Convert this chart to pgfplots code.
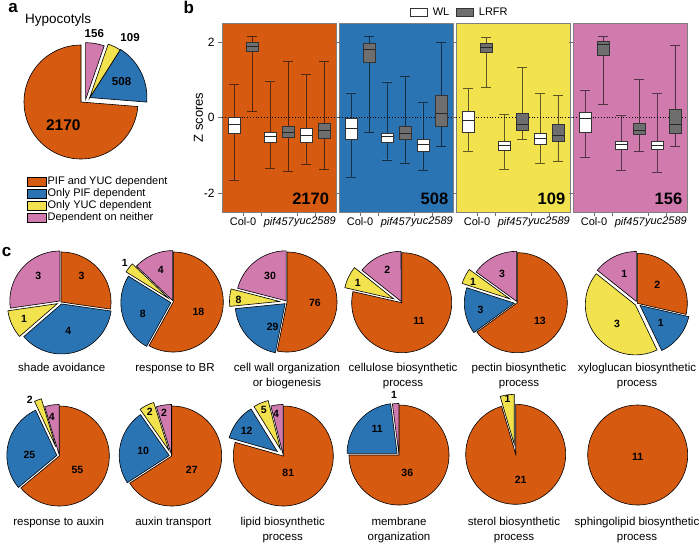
\documentclass[border=0pt]{standalone}
\usepackage{fontspec}
\setmainfont{Liberation Sans}
\setsansfont{Liberation Sans}
\usepackage{pgfplots}
\pgfplotsset{compat=1.18}
\usepgfplotslibrary{statistics}

\definecolor{pO}{HTML}{D65A10}
\definecolor{pB}{HTML}{2A74B4}
\definecolor{pY}{HTML}{F2E24E}
\definecolor{pP}{HTML}{D07AAE}
\definecolor{bxg}{HTML}{6E6E6E}

\def\pnumfont{\fontsize{10.5}{10.5}\selectfont\bfseries}

% ---- pie helpers: counts are plain numbers, angles follow from them ----
\newcommand\pieinit[2]{\pgfmathsetmacro\ptot{#1}\xdef\pang{90}\xdef\pdir{#2}}
\newcommand\pcore[1]{%
  \pgfmathsetmacro\pa{\pang}%
  \pgfmathsetmacro\pfr{#1/\ptot}%
  \pgfmathsetmacro\pb{\pang+(\pdir)*360*\pfr}%
  \pgfmathsetmacro\pmid{(\pa+\pb)/2}%
  \pgfmathsetmacro\pLo{min(\pa,\pb)}%
  \pgfmathsetmacro\pHi{max(\pa,\pb)}%
  \xdef\pang{\pb}}
\newcommand\pdraw[5]{%
  \pgfmathsetmacro\plx{#2+#4*cos(\pmid+#5)}%
  \pgfmathsetmacro\ply{#3+#4*sin(\pmid+#5)}%
  \edef\ptmp{\noexpand\addplot[draw=black,line width=0.6pt,fill=#1,domain=\pLo:\pHi,samples=72] ({#2+cos(x)},{#3+sin(x)}) -- (axis cs:#2,#3) -- cycle;}%
  \ptmp
  \edef\ptmp{\noexpand\node[font=\noexpand\pnumfont,inner sep=0pt] at (axis cs:\plx,\ply) {\unexpanded\expandafter{\ptext}};}%
  \ptmp}
\newcommand\psliceR[6]{\pcore{#1}%
  \pgfmathsetmacro\pdx{#3*cos(\pmid)}\pgfmathsetmacro\pdy{#3*sin(\pmid)}%
  \def\ptext{#6}\pdraw{#2}{\pdx}{\pdy}{#4}{#5}}
\newcommand\psliceXY[7]{\pcore{#1}\def\ptext{#7}\pdraw{#2}{#3}{#4}{#5}{#6}}

% ---- box helper ----
\newcommand\bx[7]{\addplot[forget plot, draw=black!80, line width=0.6pt, fill=#7,
  boxplot prepared={draw position=#1, lower whisker=#2, lower quartile=#3,
  median=#4, upper quartile=#5, upper whisker=#6}] coordinates {};}

\pgfplotsset{
  pieax/.style={hide axis, scale only axis, width=#1, height=#1,
    xmin=-1.3, xmax=1.3, ymin=-1.3, ymax=1.3, anchor=center, clip=false},
  bxax/.style={scale only axis, width=114pt, height=189pt, anchor=south west,
    xmin=0.333, xmax=6.667, ymin=-2.5, ymax=2.5,
    axis background/.style={fill=#1},
    axis line style={draw=black!50, line width=0.6pt},
    xtick={1.5,2.5,4.5,5.5}, xticklabels={Col-0,,,\textit{yuc2589}},
    extra x ticks={3.5}, extra x tick labels={\textit{pif457}},
    extra x tick style={tick style={draw=none}},
    ytick={-2,0,2},
    xtick pos=lower, ytick pos=left, tick align=outside,
    major tick length=4pt,
    tick style={draw=black!55, line width=0.6pt},
    xticklabel style={font=\fontsize{11}{12}\selectfont, inner sep=1pt},
    yticklabel style={font=\fontsize{12}{12}\selectfont},
    /pgf/number format/assume math mode=true,
    boxplot/draw direction=y,
    boxplot/box extend=0.65,
    boxplot/every whisker/.style={draw=black, opacity=0.6},
    boxplot/every median/.style={draw=black!85, line width=0.8pt},
    clip=false},
}
\tikzset{cat/.style={align=center, font=\fontsize{11.5}{15}\selectfont, anchor=north, inner sep=0pt},
  bignum/.style={anchor=base east, inner sep=0pt, font=\fontsize{16.5}{16.5}\selectfont\bfseries},
  plet/.style={anchor=base west, inner sep=0pt, font=\fontsize{17}{17}\selectfont\bfseries}}

\begin{document}
\begin{tikzpicture}
\path[use as bounding box] (0pt,0pt) rectangle (699pt,-542pt);

% ================= panel a =================
\node[plet] at (8.3pt,-12.7pt) {a};
\node[anchor=base west, inner sep=0pt, font=\fontsize{13.5}{13.5}\selectfont] at (25pt,-23.5pt) {Hypocotyls};
\def\pnumfont{\fontsize{11.5}{11.5}\selectfont\bfseries}
\begin{axis}[pieax=148.2pt, at={(81pt,-102pt)},
  legend entries={PIF and YUC dependent, Only PIF dependent, Only YUC dependent, Dependent on neither},
  legend cell align=left,
  legend image code/.code={\draw[#1,draw=black,line width=0.5pt] (0pt,-4.5pt) rectangle (19pt,4.5pt);},
  legend style={at={(0.135,0.005)}, anchor=north west, draw=none, fill=none, inner sep=0pt,
    row sep=0.6pt, font=\fontsize{11}{12}\selectfont, nodes={inner sep=1pt}}]
\pieinit{2943}{1}
\psliceXY{2170}{pO}{0}{0}{0.51}{9.7}{\fontsize{15.5}{15.5}\selectfont 2170}
\psliceXY{508}{pB}{0.157}{0.078}{0.62}{0}{508}
\psliceXY{109}{pY}{0.15}{0.07}{1.28}{-8}{109}
\psliceXY{156}{pP}{0.08}{0.04}{1.17}{2}{156}
\end{axis}

% ================= panel b =================
\node[plet] at (183.3pt,-13.2pt) {b};
\begin{axis}[bxax=pO, at={(222pt,-212pt)},
  ylabel={Z scores}, ylabel style={font=\fontsize{13}{13}\selectfont}, ylabel shift=-6pt,
  legend columns=2,
  legend image code/.code={\draw[#1,draw=black!80,line width=0.6pt] (0pt,-4pt) rectangle (17pt,4pt);},
  legend style={at={(1.645,1.058)}, anchor=west, draw=none, fill=none, inner sep=0pt,
    font=\fontsize{11}{12}\selectfont, nodes={inner sep=1.5pt},
    /tikz/every odd column/.append style={column sep=4pt},
    /tikz/every even column/.append style={column sep=5pt}}]
\addlegendimage{fill=white}\addlegendentry{WL}
\addlegendimage{fill=bxg}\addlegendentry{LRFR}
\addplot[forget plot, black, line width=0.8pt, dotted] coordinates {(0.333,0) (6.667,0)};
\bx{1}{-1.65}{-0.42}{-0.19}{0.00}{0.87}{white}
\bx{2}{0.16}{1.74}{1.88}{1.98}{2.14}{bxg}
\bx{3}{-1.34}{-0.65}{-0.51}{-0.38}{0.97}{white}
\bx{4}{-1.42}{-0.53}{-0.40}{-0.23}{1.49}{bxg}
\bx{5}{-1.25}{-0.66}{-0.48}{-0.29}{1.15}{white}
\bx{6}{-1.37}{-0.54}{-0.35}{-0.14}{1.50}{bxg}
\node[bignum] at (rel axis cs:0.94,0.042) {2170};
\end{axis}

\begin{axis}[bxax=pB, at={(339pt,-212pt)}, yticklabels={}]
\addplot[forget plot, black, line width=0.8pt, dotted] coordinates {(0.333,0) (6.667,0)};
\bx{1}{-1.59}{-0.58}{-0.30}{-0.03}{0.65}{white}
\bx{2}{-0.40}{1.45}{1.81}{1.96}{2.14}{bxg}
\bx{3}{-1.12}{-0.66}{-0.51}{-0.42}{0.94}{white}
\bx{4}{-1.22}{-0.58}{-0.42}{-0.22}{1.09}{bxg}
\bx{5}{-1.39}{-0.89}{-0.72}{-0.58}{0.39}{white}
\bx{6}{-0.76}{-0.23}{0.12}{0.60}{2.00}{bxg}
\node[bignum] at (rel axis cs:0.96,0.042) {508};
\end{axis}

\begin{axis}[bxax=pY, at={(456pt,-212pt)}, yticklabels={}]
\addplot[forget plot, black, line width=0.8pt, dotted] coordinates {(0.333,0) (6.667,0)};
\bx{1}{-0.90}{-0.39}{-0.07}{0.16}{0.76}{white}
\bx{2}{0.81}{1.73}{1.85}{1.97}{2.12}{bxg}
\bx{3}{-1.37}{-0.87}{-0.73}{-0.62}{0.09}{white}
\bx{4}{-0.58}{-0.35}{-0.18}{0.12}{1.32}{bxg}
\bx{5}{-1.22}{-0.72}{-0.56}{-0.41}{0.65}{white}
\bx{6}{-1.15}{-0.64}{-0.47}{-0.19}{0.59}{bxg}
\node[bignum] at (rel axis cs:0.96,0.042) {109};
\end{axis}

\begin{axis}[bxax=pP, at={(573pt,-212pt)}, yticklabels={}]
\addplot[forget plot, black, line width=0.8pt, dotted] coordinates {(0.333,0) (6.667,0)};
\bx{1}{-1.04}{-0.40}{-0.03}{0.15}{0.73}{white}
\bx{2}{0.35}{1.65}{1.94}{2.02}{2.14}{bxg}
\bx{3}{-1.40}{-0.85}{-0.72}{-0.62}{0.07}{white}
\bx{4}{-0.90}{-0.45}{-0.34}{-0.15}{1.00}{bxg}
\bx{5}{-1.46}{-0.85}{-0.73}{-0.62}{0.63}{white}
\bx{6}{-0.76}{-0.41}{-0.17}{0.21}{1.91}{bxg}
\node[bignum] at (rel axis cs:0.96,0.042) {156};
\end{axis}

% ================= panel c =================
\node[plet] at (1.7pt,-256pt) {c};
\def\pnumfont{\fontsize{10.5}{10.5}\selectfont\bfseries}

\begin{axis}[pieax=130pt, at={(61pt,-302pt)}]
\pieinit{11}{-1}
\psliceR{3}{pO}{0}{0.67}{11}{3}
\psliceR{4}{pB}{0.04}{0.55}{-2}{4}
\psliceR{1}{pY}{0.08}{0.73}{0}{1}
\psliceR{3}{pP}{0.03}{0.67}{-9}{3}
\end{axis}

\begin{axis}[pieax=130pt, at={(173.3pt,-302pt)}]
\pieinit{31}{-1}
\psliceR{18}{pO}{0}{0.54}{-7}{18}
\psliceR{8}{pB}{0.05}{0.61}{8}{8}
\psliceR{1}{pY}{0.12}{1.12}{-1}{1}
\psliceR{4}{pP}{0.03}{0.66}{-2}{4}
\end{axis}

\begin{axis}[pieax=130pt, at={(287pt,-302pt)}]
\pieinit{143}{-1}
\psliceR{76}{pO}{0}{0.56}{4}{76}
\psliceR{29}{pB}{0.05}{0.52}{19}{29}
\psliceR{8}{pY}{0.15}{0.82}{2}{8}
\psliceR{30}{pP}{0.03}{0.6}{-5.5}{30}
\end{axis}

\begin{axis}[pieax=130pt, at={(401.7pt,-302.7pt)}]
\pieinit{14}{-1}
\psliceR{11}{pO}{0}{0.5}{5}{11}
\psliceR{1}{pY}{0.18}{0.78}{2}{1}
\psliceR{2}{pP}{0.03}{0.68}{-2}{2}
\end{axis}

\begin{axis}[pieax=130pt, at={(517.3pt,-302.7pt)}]
\pieinit{20}{-1}
\psliceR{13}{pO}{0}{0.58}{-12}{13}
\psliceR{3}{pB}{0.06}{0.69}{2.5}{3}
\psliceR{1}{pY}{0.17}{0.81}{2}{1}
\psliceR{3}{pP}{0.03}{0.62}{1}{3}
\end{axis}

\begin{axis}[pieax=130pt, at={(637.3pt,-303.3pt)}]
\pieinit{7}{-1}
\psliceR{2}{pO}{0}{0.54}{4}{2}
\psliceR{1}{pB}{0.07}{0.545}{-2}{1}
\psliceR{3}{pY}{0.05}{0.53}{8}{3}
\psliceR{1}{pP}{0.04}{0.6}{-2}{1}
\end{axis}

\begin{axis}[pieax=130pt, at={(59.3pt,-456pt)}]
\pieinit{86}{-1}
\psliceR{55}{pO}{0}{0.46}{-13}{55}
\psliceR{25}{pB}{0.05}{0.55}{11.6}{25}
\psliceR{2}{pY}{0.2}{1.07}{8}{2}
\psliceR{4}{pP}{0.03}{0.77}{2.6}{4}
\end{axis}

\begin{axis}[pieax=130pt, at={(171.7pt,-456pt)}]
\pieinit{41}{-1}
\psliceR{27}{pO}{0}{0.49}{-6.5}{27}
\psliceR{10}{pB}{0.05}{0.53}{1}{10}
\psliceR{2}{pY}{0.13}{0.86}{0}{2}
\psliceR{2}{pP}{0.03}{0.84}{1.5}{2}
\end{axis}

\begin{axis}[pieax=130pt, at={(283.3pt,-456pt)}]
\pieinit{102}{-1}
\psliceR{81}{pO}{0}{0.36}{-21}{81}
\psliceR{12}{pB}{0.15}{0.74}{3}{12}
\psliceR{5}{pY}{0.15}{0.85}{0}{5}
\psliceR{4}{pP}{0.03}{0.83}{2.7}{4}
\end{axis}

\begin{axis}[pieax=130pt, at={(399pt,-455pt)}]
\pieinit{48}{-1}
\psliceR{36}{pO}{0}{0.4}{-20.6}{36}
\psliceR{11}{pB}{0.05}{0.64}{-10}{11}
\psliceR{1}{pP}{0.03}{1.17}{1}{1}
\end{axis}

\begin{axis}[pieax=130pt, at={(515.7pt,-454.3pt)}]
\pieinit{22}{-1}
\psliceR{21}{pO}{0}{0.52}{3}{21}
\psliceR{1}{pY}{0.2}{0.93}{0}{1}
\end{axis}

\begin{axis}[pieax=130pt, at={(637.7pt,-455pt)}]
\addplot[draw=black, line width=0.6pt, fill=pO, domain=0:360, samples=100] ({cos(x)},{sin(x)}) -- cycle;
\node[font=\pnumfont, inner sep=0pt] at (axis cs:0,-0.03) {11};
\end{axis}

% category labels
\node[cat] at (61.7pt,-363pt) {shade avoidance};
\node[cat] at (175pt,-363pt) {response to BR};
\node[cat] at (287pt,-363pt) {cell wall organization\\or biogenesis};
\node[cat] at (403pt,-363pt) {cellulose biosynthetic\\process};
\node[cat] at (519pt,-363pt) {pectin biosynthetic\\process};
\node[cat] at (637pt,-363pt) {xyloglucan biosynthetic\\process};
\node[cat] at (58.7pt,-517pt) {response to auxin};
\node[cat] at (173.3pt,-517pt) {auxin transport};
\node[cat] at (282.7pt,-517pt) {lipid biosynthetic\\process};
\node[cat] at (399pt,-517pt) {membrane\\organization};
\node[cat] at (514pt,-517pt) {sterol biosynthetic\\process};
\node[cat] at (637pt,-517pt) {sphingolipid biosynthetic\\process};
\end{tikzpicture}
\end{document}
